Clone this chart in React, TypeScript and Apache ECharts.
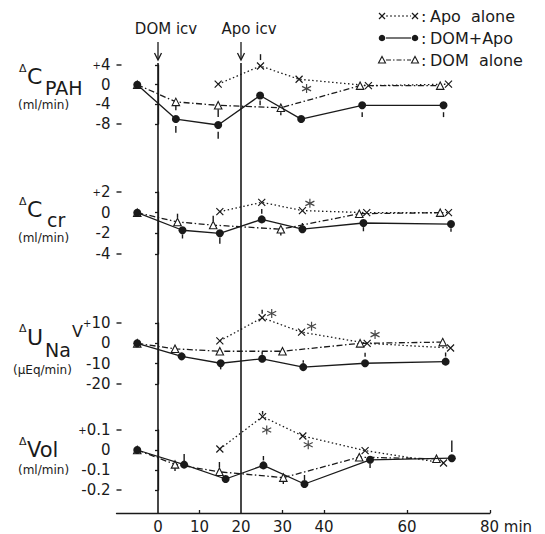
import React, { useEffect, useRef } from 'react';
import * as echarts from 'echarts';

// ---------- data ----------
const xLabelTicks = [0, 10, 20, 30, 40, 60, 80];
const xMinorTicks = [10, 30, 40, 60, 80];
const eventTimes = [0, 20];
const eventLabels = ['DOM icv', 'Apo icv'];

// ΔC_PAH (ml/min)
const pahComb = [[-5, 0], [4.3, -7], [14.5, -8.2], [24.6, -2.2], [34.5, -7], [49.2, -4.2], [68.8, -4.2]];
const pahDom = [[-5, 0], [4.3, -3.5], [14.5, -4.2], [29.6, -4.7], [48.7, -0.2], [68, -0.2]];
const pahApo = [[14.5, 0.1], [24.7, 3.8], [34, 1.1], [50.7, -0.2], [70, 0.1]];
const pahStar = [[35.8, -0.8]];
const pahErr = [[4.3, -8.4, -9.8], [14.5, -9.6, -11], [24.6, -3.2, -4.2], [49.2, -5.6, -6.6], [68.8, -5.6, -6.6],
  [4.3, -4.3, -5.2], [14.5, -5, -6.6], [29.6, -5.6, -6.2], [24.7, 5.0, 6.2]];

// ΔC_cr (ml/min)
const crComb = [[-5, 0], [5.9, -1.7], [14.9, -2.0], [25, -0.65], [34.8, -1.6], [49.5, -1.0], [70.6, -1.1]];
const crDom = [[-5, 0], [4.7, -0.9], [13.3, -1.2], [29.6, -1.6], [48.5, -0.1], [68, 0]];
const crApo = [[14.9, 0.1], [25, 1.0], [34.8, 0.2], [50.3, 0], [70, 0]];
const crStar = [[36.6, 0.9]];
const crErr = [[5.9, -2.1, -2.5], [14.9, -2.4, -3.0], [25, -0.1, 0.35], [4.7, -0.5, -0.1], [13.3, -0.3, -0.8],
  [34.8, -1.0, -1.25], [29.6, -1.9, -2.2], [49.5, -1.4, -1.8], [70.6, -1.5, -1.85]];

// ΔU_Na V (µEq/min)
const naComb = [[-5, 0], [5.7, -6.4], [15.1, -9.8], [25.1, -7.6], [35, -11.7], [49.9, -9.8], [69.3, -9.0]];
const naDom = [[-5, 0], [4.1, -2.7], [14.9, -3.9], [30, -3.9], [48.7, 0], [68.6, 0.6]];
const naApo = [[14.9, 1.2], [25.1, 12.6], [34.6, 5.5], [50.4, 0], [70.5, -2.3]];
const naStar = [[27.4, 14.7], [37, 8.4], [52.3, 4.3]];
const naErr = [[25.1, 14.5, 16.5], [15.1, -11.5, -12.8], [25.1, -4.2, -5.6], [35, -8.3, -9.6],
  [49.9, -4.6, -6.6], [69.3, -4.5, -6.5]];

// ΔVol (ml/min)
const volComb = [[-5, 0], [6.3, -0.073], [16.3, -0.145], [25.4, -0.077], [35.3, -0.17], [51.1, -0.049], [70.8, -0.041]];
const volDom = [[-5, 0], [4.1, -0.072], [14.8, -0.109], [30.2, -0.138], [48.5, -0.036], [67.1, -0.044]];
const volApo = [[14.9, 0.005], [25.2, 0.167], [34.9, 0.07], [49.9, -0.003], [68.8, -0.065]];
const volStar = [[26.2, 0.1], [36.2, 0.026]];
const volErr = [[6.3, -0.02, -0.055], [25.4, -0.03, -0.052], [35.3, -0.125, -0.15], [51.1, -0.067, -0.09],
  [70.8, -0.01, 0.048], [4.1, -0.085, -0.105], [14.8, -0.06, -0.088], [30.2, -0.152, -0.17], [25.2, 0.177, 0.195]];

const yMins = [-8, -4, -20, -0.2];
const yMaxs = [4, 2, 10, 0.1];
const ySteps = [4, 2, 10, 0.1];

const panelData = [
  [pahComb, pahDom, pahApo, pahStar, pahErr],
  [crComb, crDom, crApo, crStar, crErr],
  [naComb, naDom, naApo, naStar, naErr],
  [volComb, volDom, volApo, volStar, volErr],
];

// ---------- layout ----------
const GRID_LEFT = 116.5;
const GRID_WIDTH = 373.5;
const panelTops = [65, 192, 323, 430];
const panelHeights = [59, 62, 61, 60];
const AXIS_Y = 513;
const EVENT_TOP = 42;

const FONT = '"DejaVu Sans", sans-serif';
const INK = '#1a1a1a';

const X_PATH = 'path://M0,0L10,10M10,0L0,10';
const STAR_PATH = 'path://M5,0L5,10M0.67,2.5L9.33,7.5M0.67,7.5L9.33,2.5';

function fmtY(v: number) {
  const r = parseFloat(v.toPrecision(6));
  if (r > 0) return '{p|+}' + r;
  if (r < 0) return '-' + Math.abs(r);
  return '0';
}

function txt(x: number, y: number, text: string, size: number, align = 'left') {
  return {
    type: 'text', x, y, silent: true, z: 10,
    style: {
      text, fill: INK, font: `${size}px ${FONT}`,
      align, verticalAlign: 'middle', textAlign: align, textVerticalAlign: 'middle',
    },
  };
}

function buildOption() {
  const grid: any[] = [];
  const xAxis: any[] = [];
  const yAxis: any[] = [];
  const series: any[] = [];
  const lineW = 1.3;

  for (let i = 0; i < 4; i++) {
    grid.push({ left: GRID_LEFT, width: GRID_WIDTH, top: panelTops[i], height: panelHeights[i] });
    xAxis.push({ type: 'value', gridIndex: i, min: -10, max: 80, show: false });
    yAxis.push({
      type: 'value', gridIndex: i, min: yMins[i], max: yMaxs[i], interval: ySteps[i],
      axisLine: { show: true, lineStyle: { color: INK, width: lineW } },
      axisTick: { show: true, inside: false, length: 3, lineStyle: { color: INK, width: lineW } },
      axisLabel: {
        fontSize: 15, color: INK, fontFamily: FONT, margin: 6, formatter: fmtY,
        rich: { p: { fontSize: 10, fontFamily: FONT, color: INK } },
      },
      splitLine: { show: false },
    });
  }
  // background grid for events + x axis
  grid.push({ left: GRID_LEFT, width: GRID_WIDTH, top: EVENT_TOP, height: AXIS_Y - EVENT_TOP });
  xAxis.push({
    type: 'value', gridIndex: 4, min: -10, max: 80, interval: 10,
    axisLine: { show: true, lineStyle: { color: INK, width: lineW } },
    axisTick: { show: true, inside: true, length: 3, customValues: xMinorTicks, lineStyle: { color: INK, width: lineW } },
    axisLabel: {
      customValues: xLabelTicks, fontSize: 15, color: INK, fontFamily: FONT, margin: 6,
      formatter: (v: number) => (v === 80 ? '{pad|}80 min' : String(v)),
      rich: { pad: { width: 32 } },
    },
    splitLine: { show: false },
  });
  yAxis.push({ type: 'value', gridIndex: 4, min: 0, max: 1, show: false });

  // event lines
  series.push({
    type: 'custom', xAxisIndex: 4, yAxisIndex: 4, z: 1, silent: true,
    data: eventTimes.map((t) => [t, 0]),
    encode: { x: 0, y: 1 },
    renderItem: (params: any, api: any) => {
      const t = api.value(0);
      const b = api.coord([t, 0]);
      const tp = api.coord([t, 1]);
      const x = b[0];
      const y0 = tp[1];
      const st = { stroke: INK, lineWidth: 1.3, fill: 'none' };
      return {
        type: 'group',
        children: [
          { type: 'line', shape: { x1: x, y1: y0, x2: x, y2: y0 + 17 }, style: st },
          { type: 'polyline', shape: { points: [[x - 3.5, y0 + 11], [x, y0 + 18], [x + 3.5, y0 + 11]] }, style: st },
          { type: 'line', shape: { x1: x, y1: y0 + 21, x2: x, y2: b[1] }, style: { stroke: INK, lineWidth: 1.6 } },
          {
            type: 'text', x: x + 8, y: y0 - 13,
            style: { text: eventLabels[params.dataIndex], fill: INK, font: `15px ${FONT}`, align: 'center', verticalAlign: 'middle', textAlign: 'center', textVerticalAlign: 'middle' },
          },
        ],
      };
    },
  });

  for (let i = 0; i < 4; i++) {
    const [comb, dom, apo, star, err] = panelData[i];
    // bracket ends of the y axis
    series.push({
      type: 'custom', xAxisIndex: i, yAxisIndex: i, z: 5, silent: true, clip: false,
      data: [[-10, yMins[i]], [-10, yMaxs[i]]], encode: { x: 0, y: 1 },
      renderItem: (_p: any, api: any) => {
        const a = api.coord([api.value(0), api.value(1)]);
        return { type: 'line', shape: { x1: a[0], y1: a[1], x2: a[0] + 5, y2: a[1] }, style: { stroke: INK, lineWidth: 1.4 } };
      },
    });
    series.push({
      type: 'custom', xAxisIndex: i, yAxisIndex: i, z: 2, silent: true, clip: false,
      data: err, encode: { x: 0, y: [1, 2] },
      renderItem: (_p: any, api: any) => {
        const a = api.coord([api.value(0), api.value(1)]);
        const b = api.coord([api.value(0), api.value(2)]);
        return { type: 'line', shape: { x1: a[0], y1: a[1], x2: b[0], y2: b[1] }, style: { stroke: INK, lineWidth: 1.4 } };
      },
    });
    series.push({
      type: 'line', xAxisIndex: i, yAxisIndex: i, data: comb, clip: false, z: 4,
      symbol: 'circle', symbolSize: 8,
      itemStyle: { color: INK },
      lineStyle: { color: INK, width: lineW },
    });
    series.push({
      type: 'line', xAxisIndex: i, yAxisIndex: i, data: dom, clip: false, z: 3,
      symbol: 'triangle', symbolSize: 7.5, showAllSymbol: true,
      itemStyle: { color: '#fff', borderColor: INK, borderWidth: 1.1 },
      lineStyle: { color: INK, width: lineW, type: [6, 2.5, 1.5, 2.5] },
    });
    series.push({
      type: 'line', xAxisIndex: i, yAxisIndex: i, data: apo, clip: false, z: 3,
      symbol: X_PATH, symbolSize: 7,
      itemStyle: { color: 'transparent', borderColor: INK, borderWidth: 1.2 },
      lineStyle: { color: INK, width: lineW, type: [1.5, 2.5] },
    });
    series.push({
      type: 'scatter', xAxisIndex: i, yAxisIndex: i, data: star, clip: false, z: 3,
      symbol: STAR_PATH, symbolSize: 9,
      itemStyle: { color: 'transparent', borderColor: INK, borderWidth: 1.2 },
    });
  }

  // axis titles and legend
  const g: any[] = [
    txt(19, 68, 'Δ', 11), txt(27, 76, 'C', 22), txt(45, 88, 'PAH', 19), txt(18, 105, '(ml/min)', 12),
    txt(19, 201, 'Δ', 11), txt(27, 209, 'C', 22), txt(47, 220, 'cr', 19), txt(18, 238, '(ml/min)', 12),
    txt(19, 328, 'Δ', 11), txt(27, 337, 'U', 22), txt(45, 350, 'Na', 19), txt(72, 331, 'V', 16), txt(13, 370, '(μEq/min)', 12),
    txt(19, 441, 'Δ', 11), txt(27, 450, 'Vol', 21), txt(18, 470, '(ml/min)', 12),
  ];
  const legendRows = [
    { y: 16, kind: 'apo', label: 'Apo  alone' },
    { y: 38, kind: 'comb', label: 'DOM+Apo' },
    { y: 60, kind: 'dom', label: 'DOM  alone' },
  ];
  const lx0 = 382, lx1 = 415;
  legendRows.forEach((r) => {
    const dash = r.kind === 'apo' ? [2, 2] : r.kind === 'dom' ? [5, 2, 1.5, 2] : null;
    g.push({ type: 'line', shape: { x1: lx0 + 4, y1: r.y, x2: lx1 - 4, y2: r.y }, style: { stroke: INK, lineWidth: 1.2, lineDash: dash } });
    [lx0, lx1].forEach((x) => {
      if (r.kind === 'apo') {
        g.push({ type: 'line', shape: { x1: x - 3, y1: r.y - 3, x2: x + 3, y2: r.y + 3 }, style: { stroke: INK, lineWidth: 1.2 } });
        g.push({ type: 'line', shape: { x1: x + 3, y1: r.y - 3, x2: x - 3, y2: r.y + 3 }, style: { stroke: INK, lineWidth: 1.2 } });
      } else if (r.kind === 'comb') {
        g.push({ type: 'circle', shape: { cx: x, cy: r.y, r: 3.3 }, style: { fill: INK } });
      } else {
        g.push({ type: 'polygon', shape: { points: [[x - 3.5, r.y + 3], [x + 3.5, r.y + 3], [x, r.y - 3.5]] }, style: { fill: '#fff', stroke: INK, lineWidth: 1.1 } });
      }
    });
    g.push(txt(421, r.y, ':', 16));
    g.push(txt(430, r.y, r.label, 16));
  });

  return {
    animation: false,
    backgroundColor: '#fff',
    grid, xAxis, yAxis, series,
    graphic: { elements: g },
  };
}

export default function App() {
  const ref = useRef<HTMLDivElement>(null);
  useEffect(() => {
    if (!ref.current) return;
    const chart = echarts.init(ref.current, undefined, { renderer: 'svg' });
    chart.setOption(buildOption() as any);
    return () => chart.dispose();
  }, []);
  return <div ref={ref} style={{ position: 'fixed', left: 0, top: 0, width: 545, height: 534, background: '#fff' }} />;
}
